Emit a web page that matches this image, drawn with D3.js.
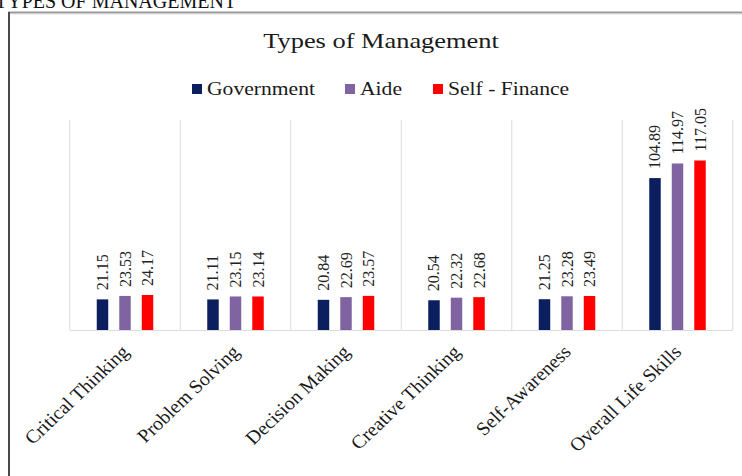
<!DOCTYPE html>
<html>
<head>
<meta charset="utf-8">
<script src="https://cdn.jsdelivr.net/npm/d3@7"></script>
<style>
  html, body { margin: 0; padding: 0; background: #fff; }
  svg { display: block; font-family: "Liberation Serif", "Times New Roman", serif; }
</style>
</head>
<body>
<svg id="chart" width="742" height="476"></svg>
<script>
const pageHeading = "TYPES OF MANAGEMENT";
const chartTitle = "Types of Management";
const categories = ["Critical Thinking", "Problem Solving", "Decision Making", "Creative Thinking", "Self-Awareness", "Overall Life Skills"];
const seriesNames = ["Government", "Aide", "Self - Finance"];
const seriesColors = ["#0b1f5e", "#8064a2", "#ff0000"];
const government = [21.15, 21.11, 20.84, 20.54, 21.25, 104.89];
const aide = [23.53, 23.15, 22.69, 22.32, 23.28, 114.97];
const selfFinance = [24.17, 23.14, 23.57, 22.68, 23.49, 117.05];
const seriesValues = [government, aide, selfFinance];

const svg = d3.select("#chart");
const W = 742, H = 476;
const plot = { left: 69.75, right: 732.75, top: 120, bottom: 330 };

// page heading (partly cut off at the top, as in the reference)
svg.append("text")
  .attr("x", -5).attr("y", 8)
  .attr("font-size", 20).attr("fill", "#111")
  .text(pageHeading);

// frame
svg.append("line").attr("x1", 8).attr("x2", W).attr("y1", 12.5).attr("y2", 12.5)
  .attr("stroke", "#9a9a9a").attr("stroke-width", 2);
svg.append("line").attr("x1", 9).attr("x2", 9).attr("y1", 12).attr("y2", H)
  .attr("stroke", "#4a4a4a").attr("stroke-width", 2);
svg.append("line").attr("x1", 11).attr("x2", W).attr("y1", 14.5).attr("y2", 14.5)
  .attr("stroke", "#eeeeee").attr("stroke-width", 1);

// title
svg.append("text")
  .attr("transform", "translate(381,48) scale(1.2,1)")
  .attr("text-anchor", "middle").attr("font-size", 22).attr("fill", "#1a1a1a")
  .text(chartTitle);

// legend
const legendX = [192, 345, 433];
const lg = svg.append("g");
seriesNames.forEach((n, i) => {
  lg.append("rect").attr("x", legendX[i]).attr("y", 84).attr("width", 10).attr("height", 10)
    .attr("fill", seriesColors[i]);
  lg.append("text")
    .attr("transform", `translate(${legendX[i] + 15},95) scale(1.2,1)`)
    .attr("font-size", 18).attr("fill", "#1a1a1a")
    .text(n);
});

// scales
const x = d3.scaleBand().domain(categories).range([plot.left, plot.right]).padding(0);
const xs = d3.scaleBand().domain(seriesNames).range([-28.25, 28.25]).paddingInner(0.49).paddingOuter(0);
const y = d3.scaleLinear().domain([0, 145]).range([plot.bottom, plot.top]);

// grid: category separators
const bounds = categories.map(c => x(c)).concat([x(categories[categories.length - 1]) + x.bandwidth()]);
svg.append("g").selectAll("line").data(bounds).join("line")
  .attr("x1", d => d).attr("x2", d => d)
  .attr("y1", plot.top).attr("y2", plot.bottom)
  .attr("stroke", "#dcdcdc").attr("stroke-width", 1);
svg.append("line").attr("x1", plot.left).attr("x2", plot.right)
  .attr("y1", plot.bottom + 0.5).attr("y2", plot.bottom + 0.5)
  .attr("stroke", "#dcdcdc").attr("stroke-width", 1);

// bars + labels
const rows = [];
categories.forEach((c, ci) => {
  seriesNames.forEach((s, si) => rows.push({ c, s, si, v: seriesValues[si][ci] }));
});
const bx = d => x(d.c) + x.bandwidth() / 2 + xs(d.s);
svg.append("g").selectAll("rect").data(rows).join("rect")
  .attr("x", bx)
  .attr("y", d => y(d.v))
  .attr("width", xs.bandwidth())
  .attr("height", d => plot.bottom - y(d.v))
  .attr("fill", d => seriesColors[d.si]);

svg.append("g").selectAll("text").data(rows).join("text")
  .attr("transform", d => `translate(${bx(d) + xs.bandwidth() / 2},${y(d.v) - 9}) rotate(-90)`)
  .attr("text-anchor", "start").attr("dominant-baseline", "central")
  .attr("font-size", 16).attr("fill", "#222")
  .text(d => d.v.toFixed(2));

// x axis labels
svg.append("g").selectAll("g").data(categories).join("g")
  .attr("transform", d => `translate(${x(d) + x.bandwidth() / 2 + 5},353) scale(1.05,1)`)
  .append("text")
  .attr("transform", "rotate(-45)")
  .attr("text-anchor", "end")
  .attr("font-size", 19).attr("fill", "#1a1a1a")
  .text(d => d);
</script>
</body>
</html>
